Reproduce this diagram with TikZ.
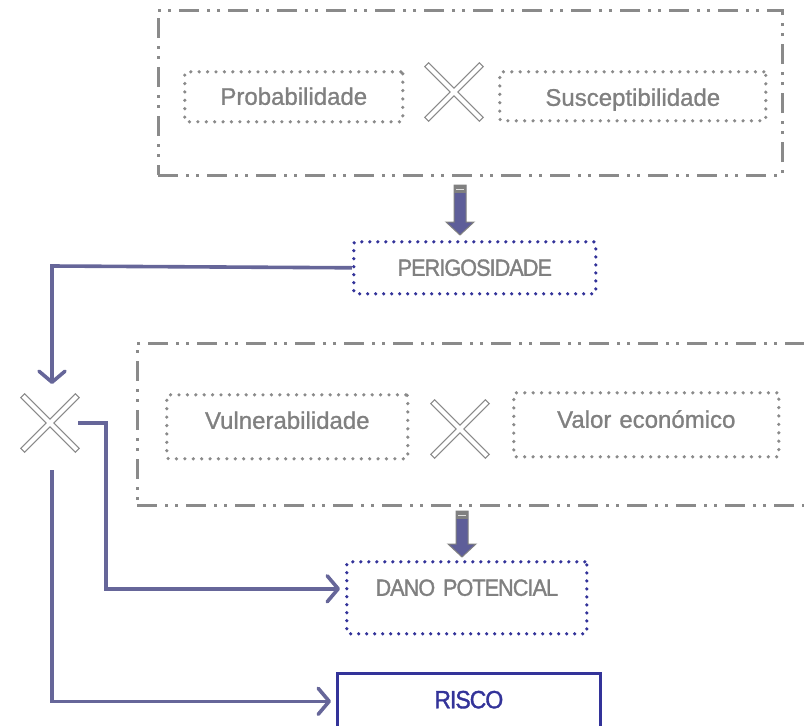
\documentclass[tikz,border=0pt]{standalone}
\usepackage{fontspec}
\setmainfont{Liberation Sans}[FakeBold=1]
\newfontfamily\capsfont{Liberation Sans}[FakeStretch=0.92,LetterSpace=-4,FakeBold=1.4]
\usetikzlibrary{arrows.meta,calc}
\definecolor{boxgray}{HTML}{8A8A8A}
\definecolor{txtgray}{HTML}{808080}
\definecolor{navy}{HTML}{333399}
\definecolor{conn}{HTML}{666699}
\definecolor{arrowfill}{HTML}{5E5E99}
\tikzset{
  groupbox/.style={draw=boxgray, line width=3pt, dash pattern=on 20pt off 8pt on 3pt off 7pt on 3pt off 8pt, inner sep=0pt},
  factorbox/.style={draw=boxgray, line width=3.6pt, line cap=round, dash pattern=on 0pt off 8.4pt, text=txtgray, font=\fontsize{24}{27}\selectfont, inner sep=0pt, rounded corners=2pt, anchor=north west, align=center},
  resultbox/.style={draw=navy, line width=3.6pt, line cap=round, dash pattern=on 0pt off 8pt, text=txtgray, font=\capsfont\fontsize{23.5}{26}\selectfont, inner sep=0pt, rounded corners=2pt, anchor=north west, align=center},
  riscobox/.style={draw=navy, line width=2.6pt, text=navy, font=\capsfont\fontsize{25}{28}\selectfont, inner sep=0pt, anchor=north west, align=center},
  link/.style={draw=conn, line width=3.6pt, -{Straight Barb[length=11pt,width=26pt,line cap=round,line join=round]}},
  xmark/.style={minimum size=55pt, inner sep=0pt},
  xbarout/.style={draw=boxgray, line width=6.5pt},
  xbarin/.style={draw=white, line width=4pt, shorten >=1.3pt, shorten <=1.3pt},
  blockarrow/.style={draw=txtgray, line width=1pt, fill=arrowfill, line join=miter}
}
\begin{document}
\begin{tikzpicture}[x=1pt,y=-1pt]
\useasboundingbox (0,0) rectangle (804,726);
\clip (0,0) rectangle (804,726);

% top group
\node[groupbox, minimum width=624pt, minimum height=165pt] (top) at (470,92.5) {};
\node[factorbox, text width=218pt, text height=33pt, text depth=17pt] (prob) at (183,70) {Probabilidade};
\node[factorbox, text width=266pt, text height=34pt, text depth=15pt] (susc) at (498,70) {Susceptibilidade};
\node[xmark] (x1) at (454,92) {};

\node[resultbox, text width=242pt, text height=34pt, text depth=18pt] (perig) at (352,240) {PERIGOSIDADE};

% middle group
\node[groupbox, minimum width=694pt, minimum height=162pt] (mid) at (484,424) {};
\node[factorbox, text width=241pt, text height=34pt, text depth=30pt] (vuln) at (165,393) {Vulnerabilidade};
\node[factorbox, text width=265pt, text height=35pt, text depth=29pt] (valor) at (512,391) {Valor económico};
\node[xmark] (x3) at (460,429) {};

\node[resultbox, text width=240pt, text height=34pt, text depth=38pt] (dano) at (345,560) {DANO POTENCIAL};
\node[riscobox, text width=263pt, text height=35pt, text depth=33pt] (risco) at (336,672) {RISCO};

\node[xmark] (x2) at (50,423) {};

% X marks
\foreach \n in {x1,x2,x3}{
  \draw[xbarout] (\n.north west) -- (\n.south east) (\n.north east) -- (\n.south west);
  \draw[xbarin] (\n.north west) -- (\n.south east);
  \draw[xbarin] (\n.north east) -- (\n.south west);
}

% block arrows
\coordinate (a1s) at (460,185);
\coordinate (a1e) at (460,235);
\coordinate (a2s) at (462,511);
\coordinate (a2e) at (462,557);
\foreach \s/\e in {a1s/a1e,a2s/a2e}{
  \draw[blockarrow] ($(\s)+(-6,0)$) -- ($(\s)+(6,0)$) -- ($(\e)+(6,-13)$) -- ($(\e)+(14,-13)$) -- (\e) -- ($(\e)+(-14,-13)$) -- ($(\e)+(-6,-13)$) -- cycle;
  \fill[txtgray] ($(\s)+(-6,0)$) rectangle ($(\s)+(6,8)$);
  \draw[white!75!gray, line width=1pt] ($(\s)+(-4,4)$) -- ($(\s)+(4,4)$);
}

% connectors
\coordinate (c1) at (52,266);
\coordinate (c1e) at (52,384);
\draw[link] (perig.west) -- (c1) -- (c1e);
\coordinate (c2s) at (78,423);
\coordinate (c2) at (106,423);
\draw[link] (c2s) -- (c2) |- ($(dano.west)+(-5,-9)$);
\coordinate (c3s) at (52,470);
\draw[link] (c3s) |- ($(risco.west)+(-5,-6)$);
\end{tikzpicture}
\end{document}
